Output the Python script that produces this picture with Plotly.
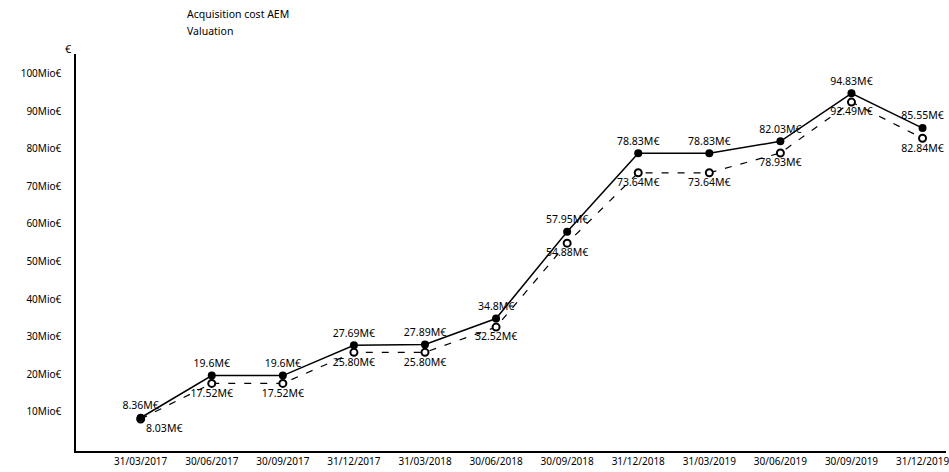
import plotly.graph_objects as go

# Quarter-end reporting dates
dates = ["31/03/2017", "30/06/2017", "30/09/2017", "31/12/2017",
         "31/03/2018", "30/06/2018", "30/09/2018", "31/12/2018",
         "31/03/2019", "30/06/2019", "30/09/2019", "31/12/2019"]

# Values in millions of euros
valuation = [8.36, 19.6, 19.6, 27.69, 27.89, 34.8,
             57.95, 78.83, 78.83, 82.03, 94.83, 85.55]
acquisition_cost = [8.03, 17.52, 17.52, 25.80, 25.80, 32.52,
                    54.88, 73.64, 73.64, 78.93, 92.49, 82.84]

y_ticks = [10, 20, 30, 40, 50, 60, 70, 80, 90, 100]
y_tick_text = [f"{v}Mio€" for v in y_ticks]

legend_names = ["Acquisition cost AEM", "Valuation"]

FONT = "Noto Sans"
INK = "#000000"

fig = go.Figure()

# Acquisition cost: dashed line, open markers, labels below
fig.add_trace(go.Scatter(
    x=dates, y=acquisition_cost,
    mode="lines+markers+text",
    line=dict(color="#000000", width=1.2, dash="7px,9px"),
    marker=dict(symbol="circle", size=7, color="#ffffff",
                line=dict(color="#000000", width=2)),
    text=[f"{v:.2f}M€" for v in acquisition_cost],
    textposition=["bottom right"] + ["bottom center"] * 11,
    textfont=dict(family=FONT, size=10.5, color=INK),
    cliponaxis=False,
    name=legend_names[0], showlegend=False,
))

# Valuation: solid line, filled markers, labels above
fig.add_trace(go.Scatter(
    x=dates, y=valuation,
    mode="lines+markers+text",
    line=dict(color="#000000", width=1.5),
    marker=dict(symbol="circle", size=8, color="#000000"),
    text=[f"{v:g}M€" for v in valuation],
    textposition="top center",
    textfont=dict(family=FONT, size=10.5, color=INK),
    cliponaxis=False,
    name=legend_names[1], showlegend=False,
))

# Series names, stacked as plain text
for i, name in enumerate(legend_names):
    fig.add_annotation(
        xref="paper", yref="paper", x=0.125, y=1.0,
        xanchor="left", yanchor="bottom",
        yshift=31 - 17 * i,
        text=name, showarrow=False,
        font=dict(family=FONT, size=10.5, color=INK),
    )

# Unit marker at the top of the value axis
fig.add_annotation(
    xref="paper", yref="paper", x=0, y=1.0,
    xanchor="right", yanchor="bottom", xshift=-2, yshift=-4,
    text="€", showarrow=False,
    font=dict(family=FONT, size=11, color=INK),
)

fig.update_xaxes(
    type="category",
    range=[-0.91, 11.33],
    showline=True, linecolor="#000000", linewidth=1.5,
    showgrid=False, zeroline=False, ticks="",
    tickfont=dict(family=FONT, size=10, color=INK),
)
fig.update_yaxes(
    range=[-0.5, 105.3],
    tickvals=y_ticks, ticktext=y_tick_text,
    showline=True, linecolor="#000000", linewidth=1.5,
    showgrid=False, zeroline=False, ticks="",
    ticklabelstandoff=11,
    tickfont=dict(family=FONT, size=10, color=INK),
)

fig.update_layout(
    width=949, height=472,
    margin=dict(l=76, r=0, t=54, b=21),
    paper_bgcolor="#ffffff", plot_bgcolor="#ffffff",
    showlegend=False,
)

fig.write_html("out.html")
